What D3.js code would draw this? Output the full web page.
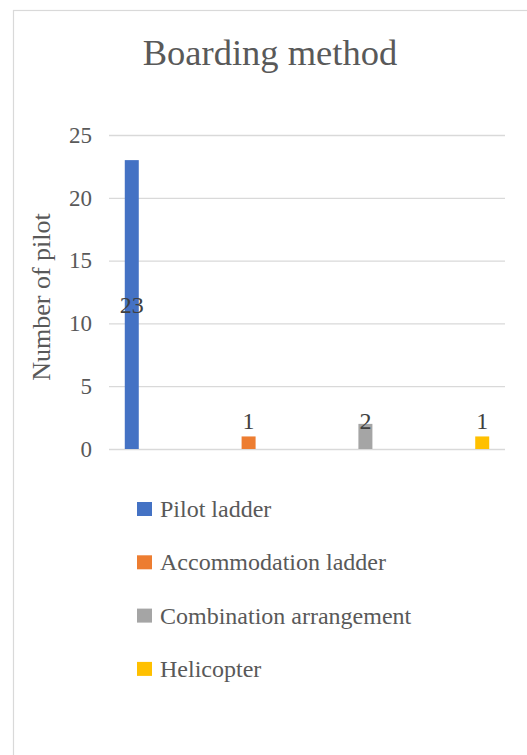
<!DOCTYPE html>
<html>
<head>
<meta charset="utf-8">
<script src="https://cdn.jsdelivr.net/npm/d3@7/dist/d3.min.js"></script>
<style>
  html, body { margin: 0; padding: 0; background: #fff; }
  svg { display: block; font-family: "Liberation Serif", "Times New Roman", serif; }
</style>
</head>
<body>
<div id="chart"></div>
<script>
// Boarding method survey: number of pilots per method
const categories = ["Pilot ladder", "Accommodation ladder", "Combination arrangement", "Helicopter"];
const values = [23, 1, 2, 1];
const colors = ["#4472C4", "#ED7D31", "#A5A5A5", "#FFC000"];
const yTicks = [0, 5, 10, 15, 20, 25];

const W = 527, H = 755;
const svg = d3.select("#chart").append("svg").attr("width", W).attr("height", H);

// chart frame (runs off the right and bottom edges)
svg.append("rect")
  .attr("x", 13.5).attr("y", 10.5)
  .attr("width", W + 20).attr("height", H + 20)
  .attr("fill", "#fff").attr("stroke", "#d9d9d9").attr("stroke-width", 1.2);

const plot = { left: 109, right: 505, top: 135, bottom: 449 };

const y = d3.scaleLinear().domain([0, 25]).range([plot.bottom, plot.top]);
const x = d3.scalePoint().domain(categories).range([plot.left, plot.right]).padding(0.195);
const barW = 14;

// title
svg.append("text")
  .attr("x", 270).attr("y", 65)
  .attr("text-anchor", "middle")
  .attr("font-size", 36.5).attr("fill", "#595959")
  .text("Boarding method");

// gridlines + tick labels
const yAxis = d3.axisLeft(y).tickValues(yTicks).tickSize(-(plot.right - plot.left)).tickPadding(17);
const ga = svg.append("g").attr("transform", `translate(${plot.left},0)`).call(yAxis);
ga.select(".domain").remove();
ga.selectAll(".tick line").attr("stroke", "#d9d9d9").attr("stroke-width", 1.3);
ga.selectAll(".tick text")
  .attr("font-family", "Liberation Serif, serif")
  .attr("font-size", 23).attr("fill", "#595959");

// y-axis title
svg.append("text")
  .attr("transform", `translate(50,${(plot.top + plot.bottom) / 2 + 5}) rotate(-90)`)
  .attr("text-anchor", "middle")
  .attr("font-size", 26).attr("fill", "#595959")
  .text("Number of pilot");

// bars
svg.append("g").selectAll("rect")
  .data(categories)
  .join("rect")
  .attr("x", d => x(d) - barW / 2)
  .attr("y", (d, i) => y(values[i]))
  .attr("width", barW)
  .attr("height", (d, i) => y(0) - y(values[i]))
  .attr("fill", (d, i) => colors[i]);

// data labels: large bar labelled at its middle, short bars above the axis
svg.append("g").selectAll("text")
  .data(categories)
  .join("text")
  .attr("x", d => x(d))
  .attr("y", (d, i) => values[i] > 5 ? y(values[i] / 2) + 8 : y(0) - 20)
  .attr("text-anchor", "middle")
  .attr("font-size", 24).attr("fill", "#404040")
  .text((d, i) => values[i]);

// legend
const lg = svg.append("g").selectAll("g")
  .data(categories)
  .join("g")
  .attr("transform", (d, i) => `translate(137,${502 + i * 53.3})`);
lg.append("rect").attr("width", 15).attr("height", 14).attr("fill", (d, i) => colors[i]);
lg.append("text")
  .attr("x", 23).attr("y", 15)
  .attr("font-size", 24).attr("fill", "#595959")
  .text(d => d);
</script>
</body>
</html>
